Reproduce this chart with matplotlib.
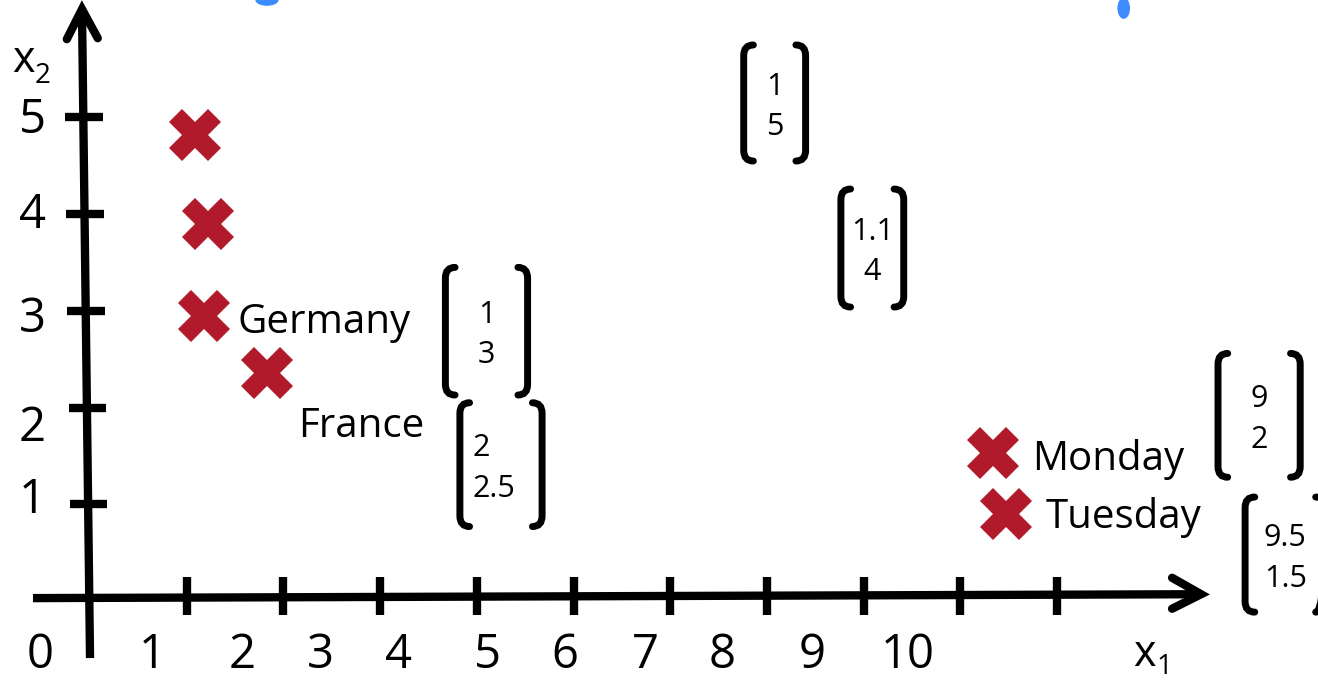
import matplotlib
matplotlib.use("Agg")
import matplotlib.pyplot as plt
from matplotlib.path import Path
from matplotlib.patches import PathPatch, Ellipse

plt.rcParams['font.family'] = ['Open Sans', 'DejaVu Sans']

# points drawn on the sketch (x1, x2)
names = ["", "", "Germany", "France", "Monday", "Tuesday"]
pt_x = [1.09, 1.22, 1.18, 1.83, 9.34, 9.47]
pt_y = [4.82, 3.90, 2.95, 2.36, 1.53, 0.90]
name_x = [0, 0, 1.52, 2.15, 9.74, 9.88]
name_y = [0, 0, 2.77, 1.70, 1.355, 0.755]

# column vectors written next to the points
vec_top = ["1", "1.1", "1", "2", "9", "9.5"]
vec_bot = ["5", "4", "3", "2.5", "2", "1.5"]
vec_cx = [7.08, 8.09, 4.10, 4.25, 12.09, 12.36]
vec_cy = [5.15, 3.65, 2.79, 1.41, 1.92, 0.48]
vec_w = [0.70, 0.71, 0.91, 0.91, 0.91, 0.89]
vec_h = [1.20, 1.22, 1.32, 1.28, 1.28, 1.19]
vec_align = ["center", "center", "center", "left", "center", "center"]

x_ticks = [1, 2, 3, 4, 5, 6, 7, 8, 9, 10]
y_ticks = [1, 2, 3, 4, 5]
x_tick_labels = ["0", "1", "2", "3", "4", "5", "6", "7", "8", "9", "10"]
x_label_pos = [-0.52, 0.64, 1.57, 2.38, 3.19, 4.11, 4.91, 5.74, 6.54, 7.47, 8.46]
y_tick_labels = ["1", "2", "3", "4", "5"]
y_label_pos = [1.04, 1.79, 2.91, 3.99, 4.97]

red = "#B11A2B"
blue = "#3C8CFF"
lw_axis = 6.0

fig = plt.figure(figsize=(13.18, 6.8), dpi=100)
ax = fig.add_axes([0, 0, 1, 1])
ax.set_xlim(-0.931, 12.699)
ax.set_ylim(-0.817, 6.215)
ax.axis("off")

# axes with arrows
ax.plot([-0.59, 11.48], [0.03, 0.07], color="black", lw=lw_axis, solid_capstyle="butt")
ax.plot([11.19, 11.49, 11.19], [0.24, 0.07, -0.08], color="black", lw=lw_axis,
        solid_capstyle="round", solid_joinstyle="miter")
ax.plot([0.0, -0.083], [-0.59, 6.10], color="black", lw=lw_axis, solid_capstyle="butt")
ax.plot([-0.24, -0.083, 0.08], [5.81, 6.12, 5.82], color="black", lw=lw_axis,
        solid_capstyle="round", solid_joinstyle="miter")

for t in x_ticks:
    ax.plot([t, t], [-0.14, 0.25], color="black", lw=lw_axis, solid_capstyle="butt")
for t in y_ticks:
    xc = -0.083 * (t + 0.59) / 6.69
    ax.plot([xc - 0.19, xc + 0.20], [t, t], color="black", lw=lw_axis, solid_capstyle="butt")

for lab, xp in zip(x_tick_labels, x_label_pos):
    ax.text(xp, -0.56, lab, fontsize=34, ha="center", va="center")
for lab, yp in zip(y_tick_labels, y_label_pos):
    ax.text(-0.60, yp, lab, fontsize=34, ha="center", va="center")

# axis names
ax.text(-0.80, 5.47, "x", fontsize=31, ha="left", va="baseline")
ax.text(-0.57, 5.36, "2", fontsize=20, ha="left", va="baseline")
ax.text(10.79, -0.67, "x", fontsize=31, ha="left", va="baseline")
ax.text(11.03, -0.76, "1", fontsize=20, ha="left", va="baseline")

# points
ax.plot(pt_x, pt_y, linestyle="none", marker="X", markersize=37,
        color=red, markeredgewidth=0)
for n, xn, yn in zip(names, name_x, name_y):
    if n:
        ax.text(xn, yn, n, fontsize=29, ha="left", va="baseline")

# bracketed vectors
hook = 0.10
rad = 0.11
for top, bot, cx, cy, w, h, al in zip(vec_top, vec_bot, vec_cx, vec_cy, vec_w, vec_h, vec_align):
    for side in (-1, 1):
        x0 = cx + side * w / 2 - side * 0.03
        yt, yb = cy + h / 2, cy - h / 2
        xi = x0 - side * hook
        verts = [(xi, yt), (x0, yt), (x0, yt - rad), (x0, yb + rad), (x0, yb), (xi, yb)]
        codes = [Path.MOVETO, Path.CURVE3, Path.CURVE3, Path.LINETO, Path.CURVE3, Path.CURVE3]
        ax.add_patch(PathPatch(Path(verts, codes), fill=False, lw=5,
                               edgecolor="black", capstyle="round"))
    tx = cx if al == "center" else cx - w / 2 + 0.16
    ax.text(tx, cy + 0.17, top, fontsize=22, ha=al, va="center")
    ax.text(tx, cy - 0.25, bot, fontsize=22, ha=al, va="center")

# blue pen marks at the top edge
ax.add_patch(Ellipse((1.83, 6.215), 0.24, 0.12, color=blue, lw=0))
ax.add_patch(Ellipse((10.69, 6.13), 0.13, 0.22, color=blue, lw=0))

fig.savefig("out.png", dpi=100)
